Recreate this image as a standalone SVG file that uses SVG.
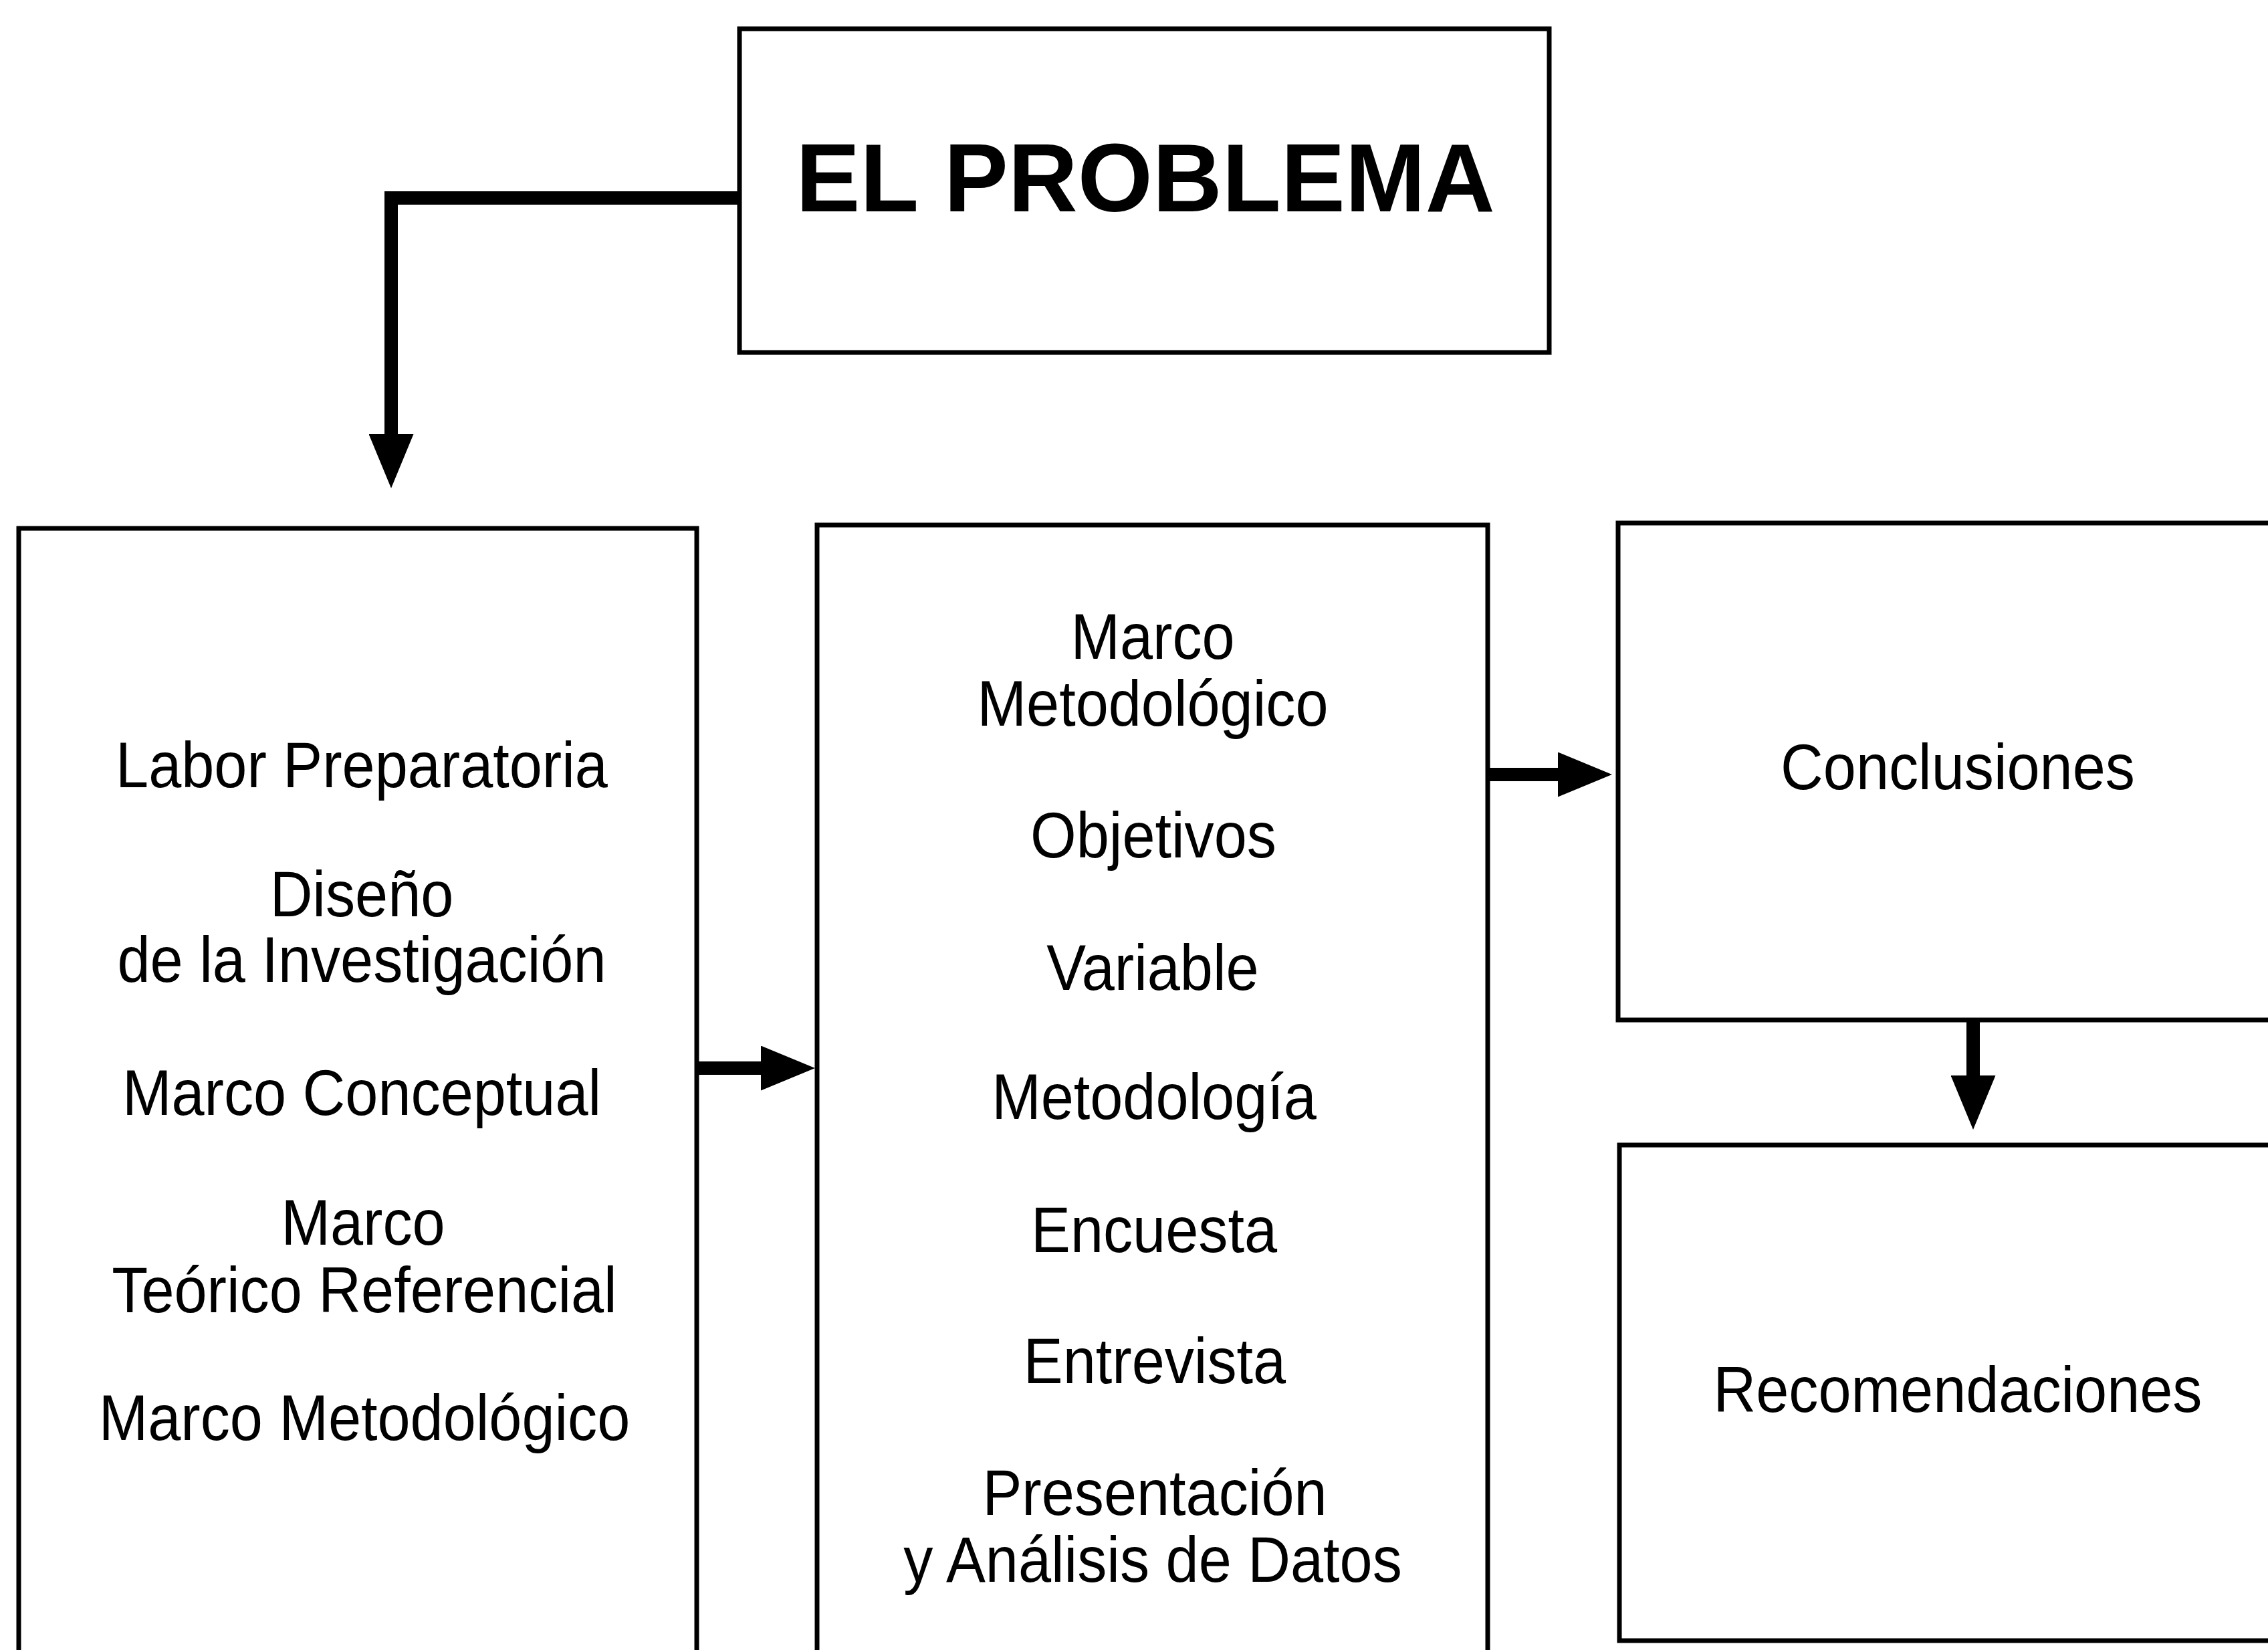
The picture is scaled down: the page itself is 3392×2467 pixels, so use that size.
<svg xmlns="http://www.w3.org/2000/svg" width="3392" height="2467" viewBox="0 0 3392 2467">
<style>
.box{fill:#fff;stroke:#000;stroke-width:7}
.conn{fill:none;stroke:#000;stroke-width:20;stroke-linejoin:miter}
.t{font-family:"Liberation Sans",Arial,Helvetica,sans-serif;font-size:97px;fill:#000;text-anchor:middle}
.title{font-family:"Liberation Sans",Arial,Helvetica,sans-serif;font-size:144px;font-weight:bold;fill:#000;text-anchor:middle}
</style>
<defs>
<marker id="ah" markerUnits="userSpaceOnUse" markerWidth="81" markerHeight="67" viewBox="0 0 81 67" refX="2" refY="33.5" orient="auto">
<path d="M0,0 L81,33.5 L0,67 Z" fill="#000"/>
</marker>
</defs>
<rect width="3392" height="2467" fill="#fff"/>

<g id="node-problema">
<rect class="box" x="1106" y="43" width="1211" height="484"/>
<text class="title" x="1713" y="316">EL PROBLEMA</text>
</g>

<g id="node-preparatoria">
<rect class="box" x="28" y="790" width="1014" height="1800"/>
<text class="t" transform="translate(541,1177) scale(0.91,1)">Labor Preparatoria</text>
<text class="t" transform="translate(541,1370) scale(0.91,1)">Diseño</text>
<text class="t" transform="translate(541,1468) scale(0.91,1)">de la Investigación</text>
<text class="t" transform="translate(541,1667) scale(0.91,1)">Marco Conceptual</text>
<text class="t" transform="translate(543,1861) scale(0.91,1)">Marco</text>
<text class="t" transform="translate(545,1962) scale(0.91,1)">Teórico Referencial</text>
<text class="t" transform="translate(545,2153) scale(0.91,1)">Marco Metodológico</text>
</g>

<g id="node-metodologico">
<rect class="box" x="1222" y="785" width="1003" height="1800"/>
<text class="t" transform="translate(1724,985) scale(0.91,1)">Marco</text>
<text class="t" transform="translate(1724,1085) scale(0.91,1)">Metodológico</text>
<text class="t" transform="translate(1725,1282) scale(0.91,1)">Objetivos</text>
<text class="t" transform="translate(1724,1480) scale(0.91,1)">Variable</text>
<text class="t" transform="translate(1726,1673) scale(0.91,1)">Metodología</text>
<text class="t" transform="translate(1726,1872) scale(0.91,1)">Encuesta</text>
<text class="t" transform="translate(1727,2068) scale(0.91,1)">Entrevista</text>
<text class="t" transform="translate(1727,2265) scale(0.91,1)">Presentación</text>
<text class="t" transform="translate(1724,2365) scale(0.91,1)">y Análisis de Datos</text>
</g>

<g id="node-conclusiones">
<rect class="box" x="2420" y="782" width="1100" height="743"/>
<text class="t" transform="translate(2928,1180) scale(0.91,1)">Conclusiones</text>
</g>

<g id="node-recomendaciones">
<rect class="box" x="2422" y="1712" width="1100" height="741"/>
<text class="t" transform="translate(2928,2111) scale(0.91,1)">Recomendaciones</text>
</g>

<g id="connectors">
<path class="conn" d="M1106,296 H585 V651" marker-end="url(#ah)"/>
<path class="conn" d="M1042,1597 H1140" marker-end="url(#ah)"/>
<path class="conn" d="M2225,1158 H2332" marker-end="url(#ah)"/>
<path class="conn" d="M2951,1525 V1610" marker-end="url(#ah)"/>
</g>
</svg>
